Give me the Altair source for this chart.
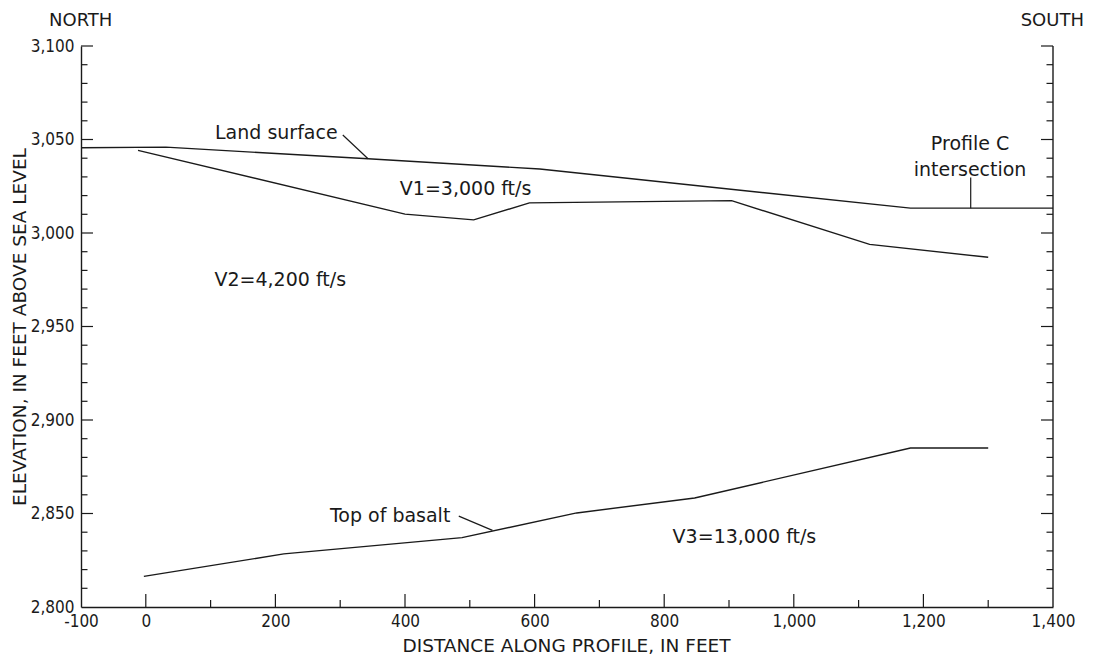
import altair as alt
import pandas as pd

# ---- data (distance ft, elevation ft) ----
land_x = [-100, 31, 343, 608, 1180, 1400]
land_y = [3045.6, 3045.9, 3039.7, 3034.2, 3013.3, 3013.3]
v1_x = [-12, 400, 506, 592, 904, 1117, 1300]
v1_y = [3044.2, 3010.1, 3007.0, 3016.1, 3017.3, 2993.9, 2987.0]
basalt_x = [-3, 213, 488, 665, 847, 1180, 1300]
basalt_y = [2816.4, 2828.4, 2837.1, 2850.3, 2858.3, 2885.0, 2885.0]

x_tick_labels = [-100, 0, 200, 400, 600, 800, 1000, 1200, 1400]
y_tick_labels = [2800, 2850, 2900, 2950, 3000, 3050, 3100]
x_major = [0, 200, 400, 600, 800, 1000, 1200]
x_minor = [100, 300, 500, 700, 900, 1100, 1300]
y_major = [2850, 2900, 2950, 3000, 3050, 3100]
y_minor = [v for v in range(2810, 3100, 10) if v % 50 != 0]

right_text = ["Land surface", "Top of basalt"]
right_x = [296, 470]
right_y = [3050.5, 2845.6]
center_text = ["Profile C", "intersection"]
center_x = [1272, 1272]
center_y = [3044.2, 3030.6]
left_text = ["V1=3,000 ft/s", "V2=4,200 ft/s", "V3=13,000 ft/s"]
left_x = [392, 106, 813]
left_y = [3020.3, 2971.9, 2834.4]

leader_x = [304, 1273, 483]
leader_y = [3052.4, 3029.7, 2848.6]
leader_x2 = [343, 1273, 535]
leader_y2 = [3039.7, 3013.3, 2841.0]

W, H = 972, 561
INK = "#1a1a1a"
LABEL_FONT = "DejaVu Sans"
LABEL_SIZE = 19
TICK_FONT = "'Liberation Sans Narrow', 'DejaVu Sans Condensed', 'Roboto Condensed', 'Liberation Sans', sans-serif"

# ---- tables ----
rows = []
for name, xs_, ys_ in [("land", land_x, land_y), ("v1", v1_x, v1_y), ("basalt", basalt_x, basalt_y)]:
    for i, (a, b) in enumerate(zip(xs_, ys_)):
        rows.append({"series": name, "x": a, "y": b, "i": i})
lines_df = pd.DataFrame(rows)

xs = alt.Scale(domain=[-100, 1400], nice=False, zero=False)
ys = alt.Scale(domain=[2800, 3100], nice=False, zero=False)

x_axis = alt.Axis(
    values=x_tick_labels,
    labelExpr="datum.value < 0 ? '-100' : format(datum.value, ',d')",
    ticks=False, tickSize=0, grid=False, domain=True,
    domainColor=INK, domainWidth=1.4,
    labelFont=TICK_FONT, labelFontSize=17, labelColor=INK,
    labelPadding=6, labelFlush=False, labelOverlap=False,
    title="DISTANCE ALONG PROFILE, IN FEET",
    titleFont="DejaVu Sans", titleFontSize=18.5, titleFontWeight="normal",
    titleColor=INK, titleBaseline="alphabetic", titleY=44, titleX=W / 2 - 1,
)
y_axis = alt.Axis(
    values=y_tick_labels,
    labelExpr="format(datum.value, ',d')",
    ticks=False, tickSize=0, grid=False, domain=True,
    domainColor=INK, domainWidth=1.4,
    labelFont=TICK_FONT, labelFontSize=17, labelColor=INK,
    labelPadding=7, labelFlush=False, labelOverlap=False,
    title="ELEVATION, IN FEET ABOVE SEA LEVEL",
    titleFont="DejaVu Sans", titleFontSize=18.5, titleFontWeight="normal",
    titleColor=INK, titleAngle=270, titleBaseline="middle", titleAlign="center",
    titleX=-62, titleY=H / 2,
)

base_lines = alt.Chart(lines_df).mark_line(color=INK, strokeWidth=1.4).encode(
    x=alt.X("x:Q", scale=xs, axis=x_axis),
    y=alt.Y("y:Q", scale=ys, axis=y_axis),
    detail="series:N",
    order="i:Q",
)

leaders = alt.Chart(pd.DataFrame({"x": leader_x, "y": leader_y, "x2": leader_x2, "y2": leader_y2})).mark_rule(
    color=INK, strokeWidth=1.2
).encode(x=alt.X("x:Q", scale=xs), y=alt.Y("y:Q", scale=ys), x2="x2:Q", y2="y2:Q")


def text_layer(texts, tx, ty, align):
    df = pd.DataFrame({"t": texts, "x": tx, "y": ty})
    return alt.Chart(df).mark_text(
        align=align, baseline="alphabetic", font=LABEL_FONT, fontSize=LABEL_SIZE, color=INK
    ).encode(x=alt.X("x:Q", scale=xs), y=alt.Y("y:Q", scale=ys), text="t:N")


t_right = text_layer(right_text, right_x, right_y, "right")
t_center = text_layer(center_text, center_x, center_y, "center")
t_left = text_layer(left_text, left_x, left_y, "left")


def xticks(vals, length):
    return alt.Chart(pd.DataFrame({"v": vals})).mark_rule(color=INK, strokeWidth=1.2).encode(
        x=alt.X("v:Q", scale=xs), y=alt.value(H), y2=alt.value(H - length)
    )


def yticks(vals, length, right=False):
    x0 = W if right else 0
    x1 = W - length if right else length
    return alt.Chart(pd.DataFrame({"v": vals})).mark_rule(color=INK, strokeWidth=1.2).encode(
        y=alt.Y("v:Q", scale=ys), x=alt.value(x0), x2=alt.value(x1)
    )


right_line = alt.Chart(pd.DataFrame({"a": [0]})).mark_rule(color=INK, strokeWidth=1.4).encode(
    x=alt.value(W), y=alt.value(0), y2=alt.value(H)
)

north = alt.Chart(pd.DataFrame({"t": ["NORTH"]})).mark_text(
    align="left", baseline="alphabetic", font=LABEL_FONT, fontSize=18, color=INK
).encode(x=alt.value(-32), y=alt.value(-20), text="t:N")
south = alt.Chart(pd.DataFrame({"t": ["SOUTH"]})).mark_text(
    align="right", baseline="alphabetic", font=LABEL_FONT, fontSize=18, color=INK
).encode(x=alt.value(W + 31), y=alt.value(-20), text="t:N")

chart = alt.layer(
    base_lines, leaders, t_right, t_center, t_left,
    xticks(x_major, 13), xticks(x_minor, 7),
    yticks(y_major, 12), yticks(y_minor, 6.5),
    yticks(y_major, 12, right=True), yticks(y_minor, 6.5, right=True),
    right_line, north, south,
).properties(
    width=W, height=H,
    autosize=alt.AutoSizeParams(type="none"),
    padding={"left": 73, "top": 38, "right": 33, "bottom": 47},
    background="white",
).configure_view(strokeWidth=0)

chart.save("out.html", embed_options={"renderer": "svg", "actions": False})
